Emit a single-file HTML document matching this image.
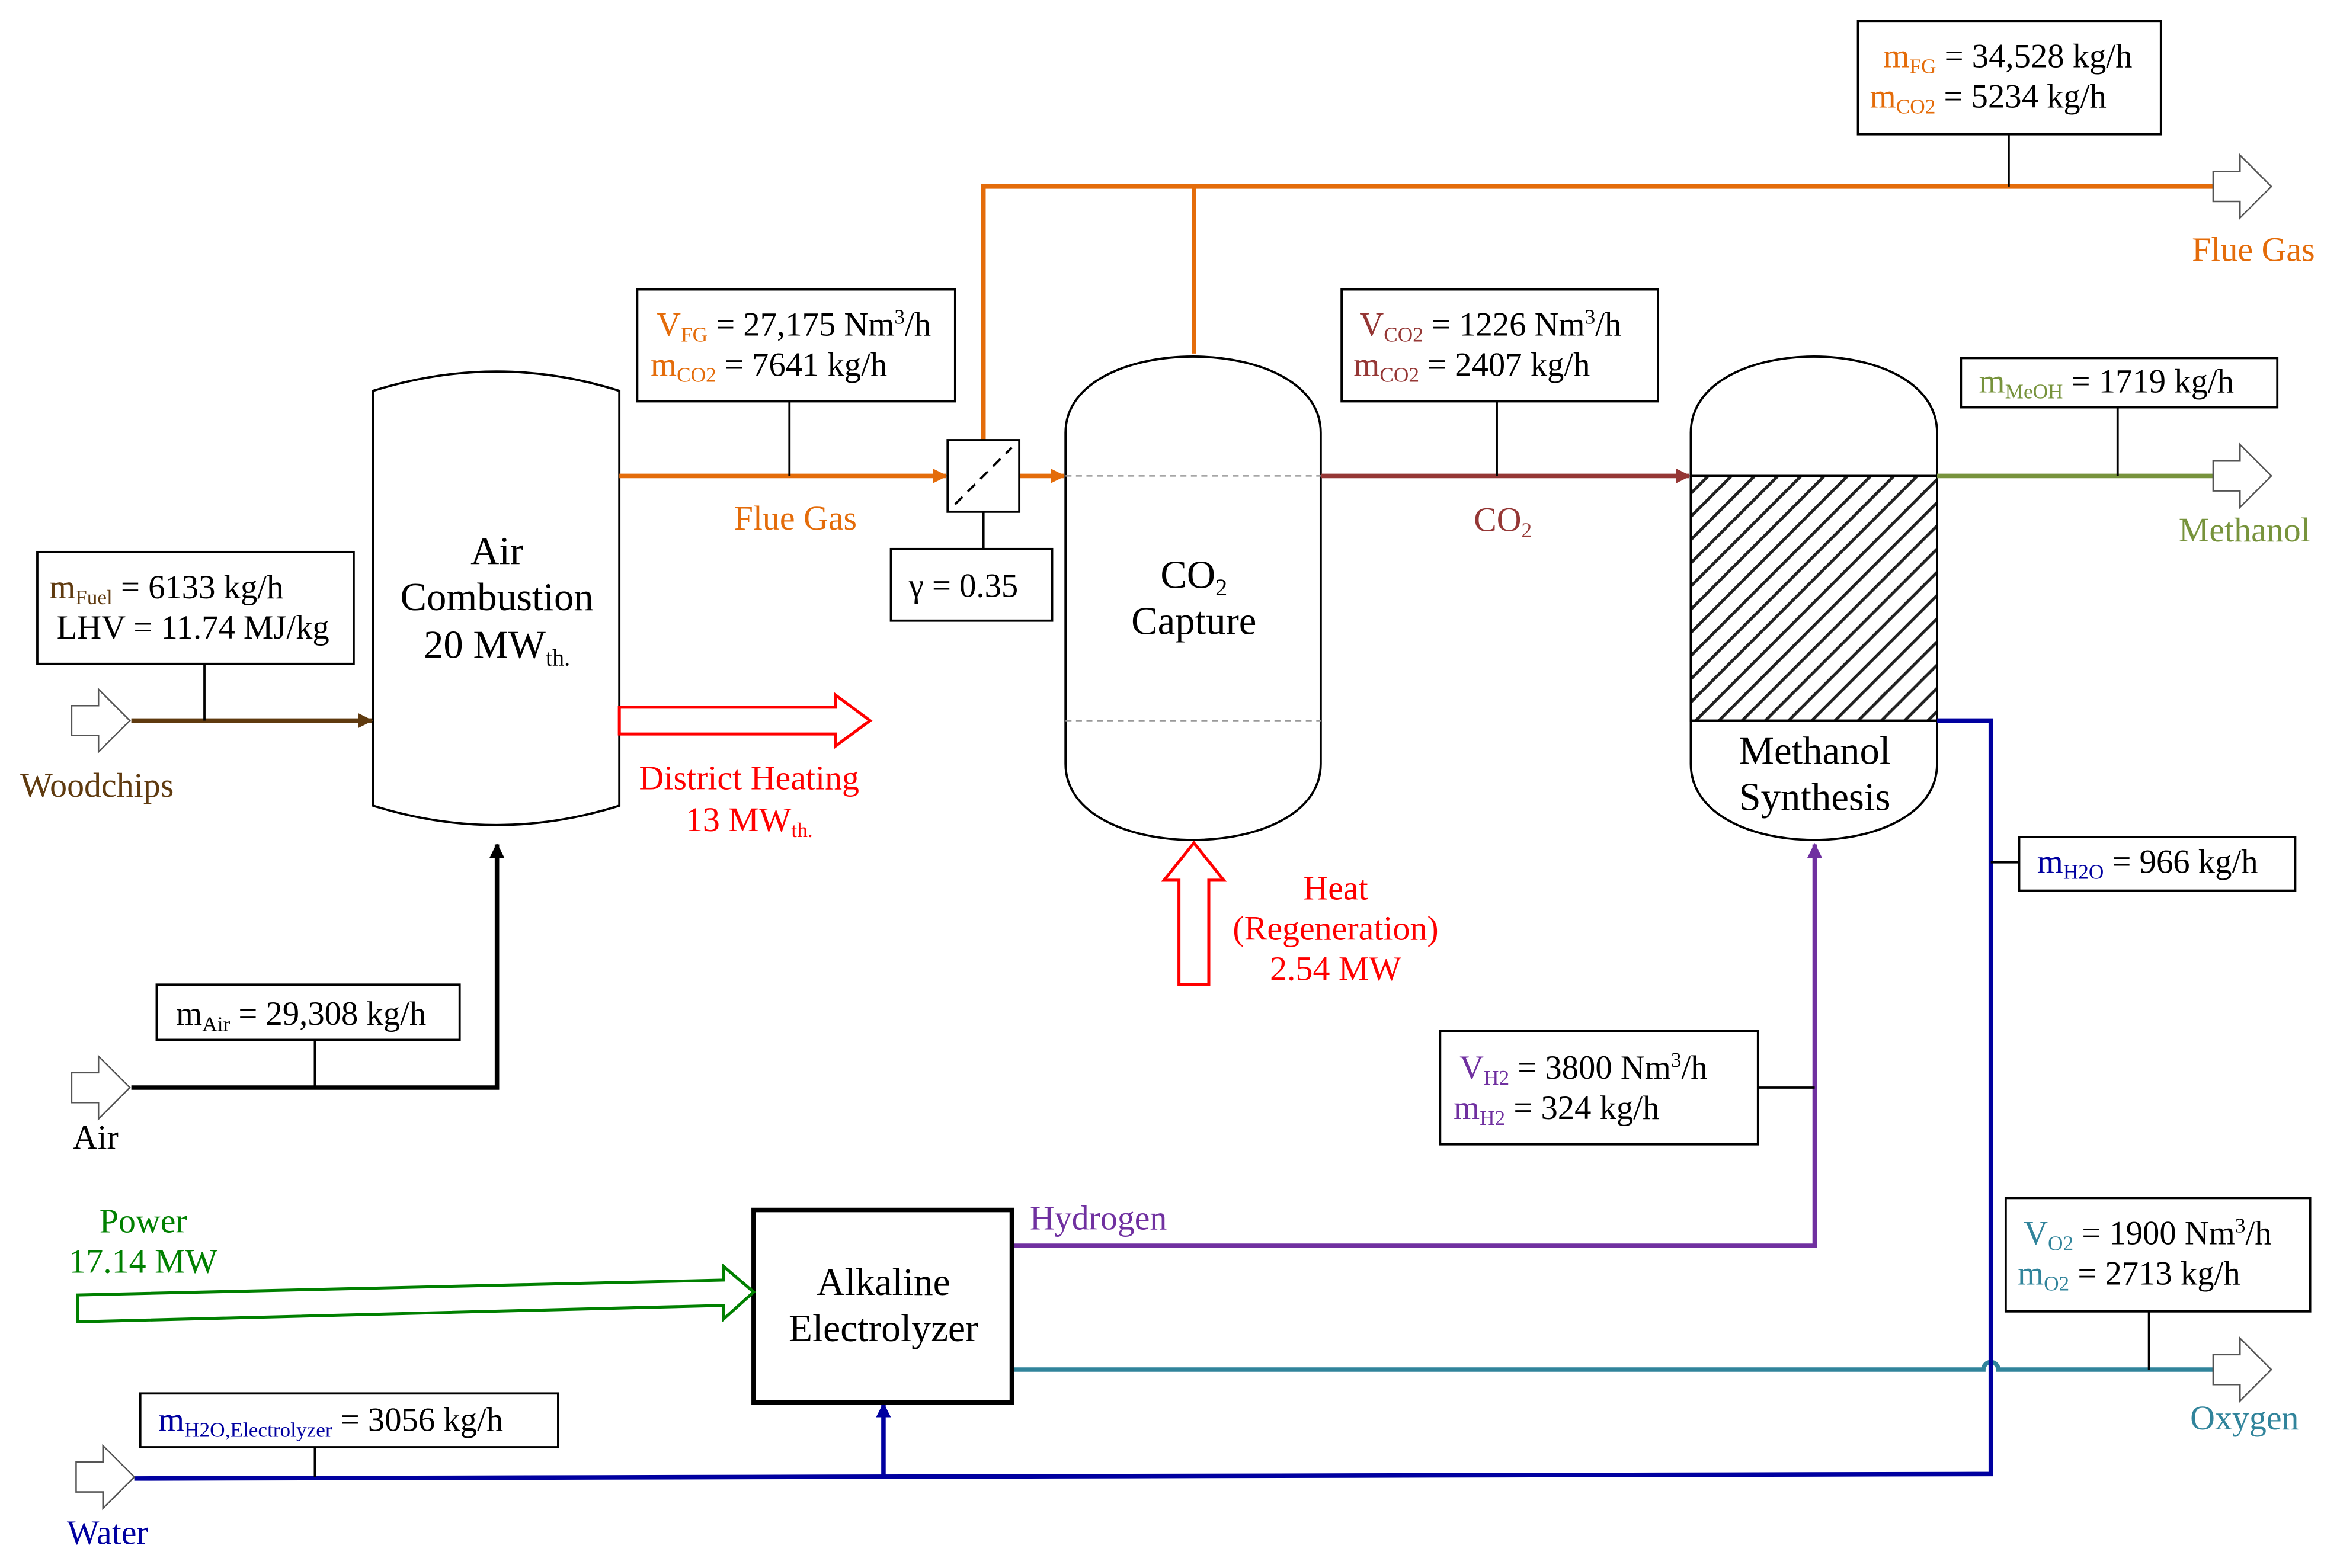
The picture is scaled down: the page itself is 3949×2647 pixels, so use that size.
<!DOCTYPE html>
<html><head><meta charset="utf-8"><style>html,body{margin:0;padding:0;background:#fff}svg{display:block}text{font-family:"Liberation Serif",serif}</style></head>
<body>
<svg width="3949" height="2647" viewBox="0 0 1568 1051" preserveAspectRatio="none" xmlns="http://www.w3.org/2000/svg">
<defs>
<marker id="ao" markerWidth="10" markerHeight="10" refX="9" refY="5" orient="auto" markerUnits="userSpaceOnUse"><path d="M0,0 L10,5 L0,10 z" fill="#E46C0A"/></marker>
<marker id="ar" markerWidth="10" markerHeight="10" refX="9" refY="5" orient="auto" markerUnits="userSpaceOnUse"><path d="M0,0 L10,5 L0,10 z" fill="#953735"/></marker>
<marker id="ab" markerWidth="10" markerHeight="10" refX="9" refY="5" orient="auto" markerUnits="userSpaceOnUse"><path d="M0,0 L10,5 L0,10 z" fill="#000"/></marker>
<marker id="abr" markerWidth="10" markerHeight="10" refX="9" refY="5" orient="auto" markerUnits="userSpaceOnUse"><path d="M0,0 L10,5 L0,10 z" fill="#5F3A0F"/></marker>
<marker id="ap" markerWidth="10" markerHeight="10" refX="9" refY="5" orient="auto" markerUnits="userSpaceOnUse"><path d="M0,0 L10,5 L0,10 z" fill="#7030A0"/></marker>
<marker id="abl" markerWidth="10" markerHeight="10" refX="9" refY="5" orient="auto" markerUnits="userSpaceOnUse"><path d="M0,0 L10,5 L0,10 z" fill="#0000A0"/></marker>
<pattern id="hatch" width="11" height="11" patternUnits="userSpaceOnUse" patternTransform="rotate(45)"><rect width="11" height="11" fill="#fff"/><line x1="0" y1="0" x2="0" y2="11" stroke="#222" stroke-width="4"/></pattern>
</defs>

<path d="M250,262 Q333,236 415,262 L415,540 Q333,566 250,540 Z" fill="#fff" stroke="#000" stroke-width="1.5"/>
<path d="M714,290 C714,222 885,222 885,290 L885,512 C885,580 714,580 714,512 Z" fill="#fff" stroke="#000" stroke-width="1.5"/>
<line x1="714" y1="319" x2="885" y2="319" stroke="#999" stroke-dasharray="4,3"/>
<line x1="714" y1="483" x2="885" y2="483" stroke="#999" stroke-dasharray="4,3"/>
<path d="M1133,290 C1133,222 1298,222 1298,290 L1298,512 C1298,580 1133,580 1133,512 Z" fill="#fff" stroke="#000" stroke-width="1.5"/>
<rect x="1133" y="319" width="165" height="164" fill="url(#hatch)" stroke="#000" stroke-width="1.5"/>

<g font-size="26.5" text-anchor="middle" fill="#000">
<text x="333" y="378">Air</text>
<text x="333" y="409">Combustion</text>
<text x="333" y="441">20 MW<tspan font-size="16" dy="5">th.</tspan></text>
<text x="800" y="394">CO<tspan font-size="16" dy="5">2</tspan></text>
<text x="800" y="425">Capture</text>
<text x="1216" y="512">Methanol</text>
<text x="1216" y="543">Synthesis</text>
</g>

<g stroke="#E46C0A" stroke-width="3" fill="none">
<line x1="415" y1="319" x2="634" y2="319" marker-end="url(#ao)"/>
<line x1="683" y1="319" x2="713" y2="319" marker-end="url(#ao)"/>
<polyline points="659,295 659,125 1483,125"/>
<line x1="800" y1="125" x2="800" y2="237"/>
</g>
<rect x="635" y="295" width="48" height="48" fill="#fff" stroke="#000" stroke-width="1.5"/>
<line x1="640" y1="338" x2="678" y2="300" stroke="#000" stroke-width="1.5" stroke-dasharray="7,5"/>
<line x1="659" y1="343" x2="659" y2="368" stroke="#000" stroke-width="1.5"/>
<rect x="597" y="368" width="108" height="48" fill="#fff" stroke="#000" stroke-width="1.5"/>
<text x="609" y="400" font-size="22.5">γ  = 0.35</text>

<line x1="885" y1="319" x2="1132" y2="319" stroke="#953735" stroke-width="3" marker-end="url(#ar)"/>
<line x1="1298" y1="319" x2="1483" y2="319" stroke="#77933C" stroke-width="3"/>
<line x1="88" y1="483" x2="249" y2="483" stroke="#5F3A0F" stroke-width="3" marker-end="url(#abr)"/>
<polyline points="88,729 333,729 333,566" stroke="#000" stroke-width="3" fill="none" marker-end="url(#ab)"/>
<polyline points="678,835 1216,835 1216,566" stroke="#7030A0" stroke-width="3" fill="none" marker-end="url(#ap)"/>
<path d="M678,918 L1329,918 A5,5 0 0 1 1339,918 L1483,918" stroke="#31849B" stroke-width="3" fill="none"/>
<polyline points="1298,483 1334,483 1334,988 90,991" stroke="#0000A0" stroke-width="3" fill="none"/>
<line x1="592" y1="990" x2="592" y2="941" stroke="#0000A0" stroke-width="3" marker-end="url(#abl)"/>
<line x1="1334" y1="578" x2="1353" y2="578" stroke="#000" stroke-width="1.5"/>

<rect x="505" y="811" width="173" height="129" fill="#fff" stroke="#000" stroke-width="3"/>
<text x="592" y="868" font-size="26" text-anchor="middle">Alkaline</text>
<text x="592" y="899" font-size="26" text-anchor="middle">Electrolyzer</text>

<g fill="#fff" stroke="#555" stroke-width="1">
<polygon points="1483,115 1501,115 1501,104 1522,125 1501,146 1501,135 1483,135"/>
<polygon points="1483,309 1501,309 1501,298 1522,319 1501,340 1501,329 1483,329"/>
<polygon points="1483,908 1501,908 1501,897 1522,918 1501,939 1501,928 1483,928"/>
<polygon points="48,473 66,473 66,462 87,483 66,504 66,493 48,493"/>
<polygon points="48,719 66,719 66,708 87,729 66,750 66,739 48,739"/>
<polygon points="51,980 69,980 69,969 90,990 69,1011 69,1000 51,1000"/>
</g>
<polygon points="415,474 560,474 560,466 583,483 560,500 560,492 415,492" fill="#fff" stroke="#FF0000" stroke-width="2"/>
<polygon points="790,660 790,590 780,590 800,565 820,590 810,590 810,660" fill="#fff" stroke="#FF0000" stroke-width="2"/>
<polygon points="52,868 485,858 485,849 505,866 485,884 485,875 52,886" fill="#fff" stroke="#008000" stroke-width="2"/>

<g fill="#fff" stroke="#000" stroke-width="1.5">
<rect x="1245" y="14" width="203" height="76"/>
<rect x="427" y="194" width="213" height="75"/>
<rect x="899" y="194" width="212" height="75"/>
<rect x="1314" y="240" width="212" height="33"/>
<rect x="25" y="370" width="212" height="75"/>
<rect x="105" y="660" width="203" height="37"/>
<rect x="965" y="691" width="213" height="76"/>
<rect x="1353" y="561" width="185" height="36"/>
<rect x="1344" y="803" width="204" height="76"/>
<rect x="94" y="934" width="280" height="36"/>
</g>
<g stroke="#000" stroke-width="1.5">
<line x1="1346" y1="90" x2="1346" y2="125"/>
<line x1="529" y1="269" x2="529" y2="319"/>
<line x1="1003" y1="269" x2="1003" y2="319"/>
<line x1="1419" y1="273" x2="1419" y2="319"/>
<line x1="137" y1="445" x2="137" y2="483"/>
<line x1="211" y1="697" x2="211" y2="729"/>
<line x1="1178" y1="729" x2="1216" y2="729"/>
<line x1="1440" y1="879" x2="1440" y2="918"/>
<line x1="211" y1="970" x2="211" y2="990"/>
</g>

<g font-size="22.5">
<text x="1262" y="45"><tspan fill="#E46C0A">m<tspan font-size="14" dy="4">FG</tspan></tspan><tspan dy="-4"> = 34,528 kg/h</tspan></text>
<text x="1253" y="72"><tspan fill="#E46C0A">m<tspan font-size="14" dy="4">CO2</tspan></tspan><tspan dy="-4"> = 5234 kg/h</tspan></text>
<text x="440" y="225"><tspan fill="#E46C0A">V<tspan font-size="14" dy="4">FG</tspan></tspan><tspan dy="-4"> = 27,175 Nm</tspan><tspan font-size="14" dy="-8">3</tspan><tspan dy="8">/h</tspan></text>
<text x="436" y="252"><tspan fill="#E46C0A">m<tspan font-size="14" dy="4">CO2</tspan></tspan><tspan dy="-4"> = 7641 kg/h</tspan></text>
<text x="911" y="225"><tspan fill="#953735">V<tspan font-size="14" dy="4">CO2</tspan></tspan><tspan dy="-4"> = 1226 Nm</tspan><tspan font-size="14" dy="-8">3</tspan><tspan dy="8">/h</tspan></text>
<text x="907" y="252"><tspan fill="#953735">m<tspan font-size="14" dy="4">CO2</tspan></tspan><tspan dy="-4"> = 2407 kg/h</tspan></text>
<text x="1326" y="263"><tspan fill="#77933C">m<tspan font-size="14" dy="4">MeOH</tspan></tspan><tspan dy="-4"> = 1719 kg/h</tspan></text>
<text x="33" y="401"><tspan fill="#5F3A0F">m<tspan font-size="14" dy="4">Fuel</tspan></tspan><tspan dy="-4"> = 6133 kg/h</tspan></text>
<text x="38" y="428">LHV = 11.74 MJ/kg</text>
<text x="118" y="687">m<tspan font-size="14" dy="4">Air</tspan><tspan dy="-4"> = 29,308 kg/h</tspan></text>
<text x="978" y="723"><tspan fill="#7030A0">V<tspan font-size="14" dy="4">H2</tspan></tspan><tspan dy="-4"> = 3800 Nm</tspan><tspan font-size="14" dy="-8">3</tspan><tspan dy="8">/h</tspan></text>
<text x="974" y="750"><tspan fill="#7030A0">m<tspan font-size="14" dy="4">H2</tspan></tspan><tspan dy="-4"> = 324 kg/h</tspan></text>
<text x="1365" y="585"><tspan fill="#0000A0">m<tspan font-size="14" dy="4">H2O</tspan></tspan><tspan dy="-4"> = 966 kg/h</tspan></text>
<text x="1356" y="834"><tspan fill="#31849B">V<tspan font-size="14" dy="4">O2</tspan></tspan><tspan dy="-4"> = 1900 Nm</tspan><tspan font-size="14" dy="-8">3</tspan><tspan dy="8">/h</tspan></text>
<text x="1352" y="861"><tspan fill="#31849B">m<tspan font-size="14" dy="4">O2</tspan></tspan><tspan dy="-4"> = 2713 kg/h</tspan></text>
<text x="106" y="959"><tspan fill="#0000A0">m<tspan font-size="14" dy="4">H2O,Electrolyzer</tspan></tspan><tspan dy="-4"> = 3056 kg/h</tspan></text>
</g>

<g font-size="23" text-anchor="middle">
<text x="1510" y="175" fill="#E46C0A">Flue Gas</text>
<text x="533" y="355" fill="#E46C0A">Flue Gas</text>
<text x="1007" y="356" fill="#953735">CO<tspan font-size="14" dy="4">2</tspan></text>
<text x="1504" y="363" fill="#77933C">Methanol</text>
<text x="65" y="534" fill="#5F3A0F">Woodchips</text>
<text x="64" y="770" fill="#000">Air</text>
<text x="72" y="1035" fill="#0000A0">Water</text>
<text x="1504" y="958" fill="#31849B">Oxygen</text>
<text x="736" y="824" fill="#7030A0">Hydrogen</text>
<text x="96" y="826" fill="#008000">Power</text>
<text x="96" y="853" fill="#008000">17.14 MW</text>
<text x="502" y="529" fill="#FF0000">District Heating</text>
<text x="502" y="557" fill="#FF0000">13 MW<tspan font-size="14" dy="4">th.</tspan></text>
<text x="895" y="603" fill="#FF0000">Heat</text>
<text x="895" y="630" fill="#FF0000">(Regeneration)</text>
<text x="895" y="657" fill="#FF0000">2.54 MW</text>
</g>
</svg>
</body></html>
